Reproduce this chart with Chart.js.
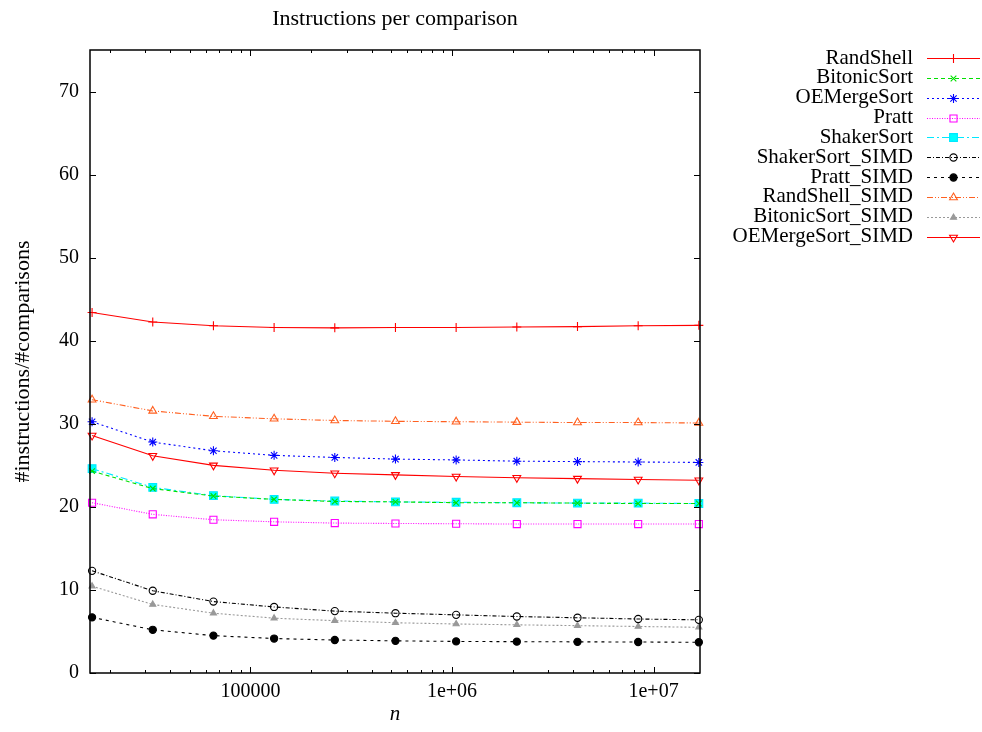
<!DOCTYPE html>
<html>
<head>
<meta charset="utf-8">
<script src="https://cdn.jsdelivr.net/npm/chart.js@4.4.1/dist/chart.umd.min.js"></script>
<style>
  html, body { margin: 0; padding: 0; background: #fff; }
  canvas { display: block; }
</style>
</head>
<body>
<canvas id="chart" width="982" height="732"></canvas>
<script>
// Problem sizes n (powers of two, 2^14 .. 2^24)
const sizes = [16384, 32768, 65536, 131072, 262144, 524288, 1048576, 2097152, 4194304, 8388608, 16777216];

// Instructions per comparison for each sorting network / algorithm
const randShell        = [43.4, 42.25, 41.8, 41.6, 41.55, 41.6, 41.6, 41.65, 41.7, 41.8, 41.85];
const bitonicSort      = [24.3, 22.2, 21.3, 20.9, 20.65, 20.6, 20.5, 20.5, 20.45, 20.4, 20.4];
const oeMergeSort      = [30.25, 27.8, 26.75, 26.2, 25.95, 25.75, 25.65, 25.5, 25.45, 25.4, 25.35];
const pratt            = [20.5, 19.1, 18.45, 18.2, 18.05, 18.0, 17.97, 17.93, 17.93, 17.93, 17.93];
const shakerSort       = [24.6, 22.35, 21.35, 20.9, 20.7, 20.6, 20.55, 20.5, 20.45, 20.45, 20.4];
const shakerSortSimd   = [12.3, 9.9, 8.6, 7.95, 7.45, 7.2, 7.0, 6.8, 6.65, 6.5, 6.4];
const prattSimd        = [6.7, 5.2, 4.5, 4.15, 3.97, 3.87, 3.8, 3.77, 3.75, 3.73, 3.7];
const randShellSimd    = [32.9, 31.55, 30.9, 30.6, 30.4, 30.3, 30.25, 30.2, 30.15, 30.15, 30.1];
const bitonicSortSimd  = [10.45, 8.25, 7.2, 6.6, 6.3, 6.05, 5.9, 5.8, 5.7, 5.6, 5.5];
const oeMergeSortSimd  = [28.6, 26.15, 25.0, 24.4, 24.05, 23.85, 23.65, 23.5, 23.4, 23.3, 23.2];

const seriesNames = ['RandShell', 'BitonicSort', 'OEMergeSort', 'Pratt', 'ShakerSort',
                     'ShakerSort_SIMD', 'Pratt_SIMD', 'RandShell_SIMD', 'BitonicSort_SIMD', 'OEMergeSort_SIMD'];
const seriesValues = [randShell, bitonicSort, oeMergeSort, pratt, shakerSort,
                      shakerSortSimd, prattSimd, randShellSimd, bitonicSortSimd, oeMergeSortSimd];

// Axis ticks
const yTickValues = [0, 10, 20, 30, 40, 50, 60, 70];
const xTickValues = [100000, 1000000, 10000000];
const xTickLabels = ['100000', '1e+06', '1e+07'];

const chartTitle = 'Instructions per comparison';
const xTitle = 'n';
const yTitle = '#instructions/#comparisons';

// Line / marker styles, one per series
const NONE = 'rgba(0,0,0,0)';
const styles = [
  { color: '#ff0000', dash: [],               point: 'cross',    radius: 4.5, fill: NONE },
  { color: '#00e000', dash: [4, 3],           point: 'crossRot', radius: 4,   fill: NONE },
  { color: '#0000ff', dash: [2, 3],           point: 'star',     radius: 4.5, fill: NONE },
  { color: '#ff00ff', dash: [1, 1.5],         point: 'rect',     radius: 5,   fill: NONE },
  { color: '#00e8ff', dash: [7, 3, 2, 3],     point: 'rect',     radius: 5.5, fill: '#00ffff' },
  { color: '#000000', dash: [4, 2, 1, 2],     point: 'circle',   radius: 3.6, fill: NONE },
  { color: '#000000', dash: [3, 4],           point: 'circle',   radius: 3.6, fill: '#000000' },
  { color: '#ff6020', dash: [6, 2, 1, 2, 1, 2], point: 'triangle', radius: 4.5, fill: NONE },
  { color: '#999999', dash: [2, 2],           point: 'triangle', radius: 3.5, fill: '#999999' },
  { color: '#ff0000', dash: [],               point: 'triangle', radius: 4.5, fill: NONE, rotation: 180 }
];

const datasets = seriesNames.map((name, i) => ({
  label: name,
  data: sizes.map((n, k) => ({ x: n, y: seriesValues[i][k] })),
  borderColor: styles[i].color,
  borderWidth: 1.1,
  borderDash: styles[i].dash,
  pointStyle: styles[i].point,
  pointRadius: styles[i].radius,
  pointRotation: styles[i].rotation || 0,
  pointBorderColor: styles[i].color,
  pointBackgroundColor: styles[i].fill,
  pointBorderWidth: 1.1,
  tension: 0,
  fill: false,
  clip: 8
}));

const FONT = '"Liberation Serif", "Times New Roman", serif';
Chart.defaults.font.family = FONT;
Chart.defaults.font.size = 20;
Chart.defaults.color = '#000';

// Border box with inward tick marks on all four sides (gnuplot style)
const framePlugin = {
  id: 'frame',
  afterDatasetsDraw(chart) {
    const { ctx, chartArea: a, scales: { x, y } } = chart;
    ctx.save();
    ctx.strokeStyle = '#000';
    ctx.lineWidth = 1;
    ctx.setLineDash([]);
    ctx.beginPath();
    yTickValues.forEach(v => {
      const py = Math.round(y.getPixelForValue(v)) + 0.5;
      ctx.moveTo(a.left, py); ctx.lineTo(a.left + 6, py);
      ctx.moveTo(a.right, py); ctx.lineTo(a.right - 6, py);
    });
    for (let dec = 10000; dec <= 10000000; dec *= 10) {
      for (let m = 1; m <= 9; m++) {
        const v = dec * m;
        if (v < x.min || v > x.max) continue;
        const len = m === 1 ? 6 : 3;
        const px = Math.round(x.getPixelForValue(v)) + 0.5;
        ctx.moveTo(px, a.bottom); ctx.lineTo(px, a.bottom - len);
        ctx.moveTo(px, a.top); ctx.lineTo(px, a.top + len);
      }
    }
    ctx.stroke();
    ctx.lineWidth = 1.5;
    ctx.strokeRect(a.left, a.top, a.right - a.left, a.bottom - a.top);
    ctx.restore();
  }
};

// Key on the right: right-aligned names followed by a line sample and marker
const keyPlugin = {
  id: 'key',
  afterDraw(chart) {
    const ctx = chart.ctx;
    const textRight = 913, lineStart = 927, lineEnd = 980, top = 58, step = 19.85;
    ctx.save();
    chart.data.datasets.forEach((ds, i) => {
      const yy = top + i * step;
      ctx.font = '21px ' + FONT;
      ctx.fillStyle = '#000';
      ctx.textAlign = 'right';
      ctx.textBaseline = 'middle';
      ctx.fillText(ds.label, textRight, yy);
      ctx.strokeStyle = ds.borderColor;
      ctx.lineWidth = ds.borderWidth;
      ctx.setLineDash(ds.borderDash);
      ctx.beginPath();
      ctx.moveTo(lineStart, Math.round(yy) + 0.5);
      ctx.lineTo(lineEnd, Math.round(yy) + 0.5);
      ctx.stroke();
      ctx.setLineDash([]);
      ctx.strokeStyle = ds.pointBorderColor;
      ctx.fillStyle = ds.pointBackgroundColor;
      Chart.helpers.drawPoint(ctx, {
        pointStyle: ds.pointStyle,
        radius: ds.pointRadius,
        rotation: ds.pointRotation,
        borderWidth: ds.pointBorderWidth
      }, (lineStart + lineEnd) / 2, Math.round(yy) + 0.5);
    });
    ctx.restore();
  }
};

new Chart(document.getElementById('chart'), {
  type: 'line',
  data: { datasets },
  plugins: [framePlugin, keyPlugin],
  options: {
    responsive: false,
    animation: false,
    layout: { padding: { top: 0, right: 282, left: 0, bottom: 0 } },
    plugins: {
      legend: { display: false },
      tooltip: { enabled: false },
      title: {
        display: true,
        text: chartTitle,
        fullSize: false,
        color: '#000',
        font: { family: FONT, size: 22, weight: 'normal' },
        padding: { top: 5.8, bottom: 17.8 }
      }
    },
    scales: {
      x: {
        type: 'logarithmic',
        min: 16000,
        max: 17000000,
        grid: { display: false, drawTicks: false },
        border: { display: false },
        afterBuildTicks: s => { s.ticks = xTickValues.map(v => ({ value: v })); },
        afterFit: s => { s.height = 59; },
        ticks: {
          autoSkip: false,
          maxRotation: 0,
          padding: 7,
          font: { family: FONT, size: 20 },
          callback: v => xTickLabels[xTickValues.indexOf(v)] ?? ''
        },
        title: {
          display: true,
          text: xTitle,
          font: { family: FONT, size: 21, style: 'italic' },
          padding: { top: 0, bottom: 5 }
        }
      },
      y: {
        type: 'linear',
        min: 0,
        max: 75,
        grid: { display: false, drawTicks: false },
        border: { display: false },
        afterBuildTicks: s => { s.ticks = yTickValues.map(v => ({ value: v })); },
        afterFit: s => { s.width = 90; },
        ticks: {
          padding: 11,
          font: { family: FONT, size: 20 }
        },
        title: {
          display: true,
          text: yTitle,
          font: { family: FONT, size: 22 },
          padding: { top: 10, bottom: 0 }
        }
      }
    }
  }
});
</script>
</body>
</html>
